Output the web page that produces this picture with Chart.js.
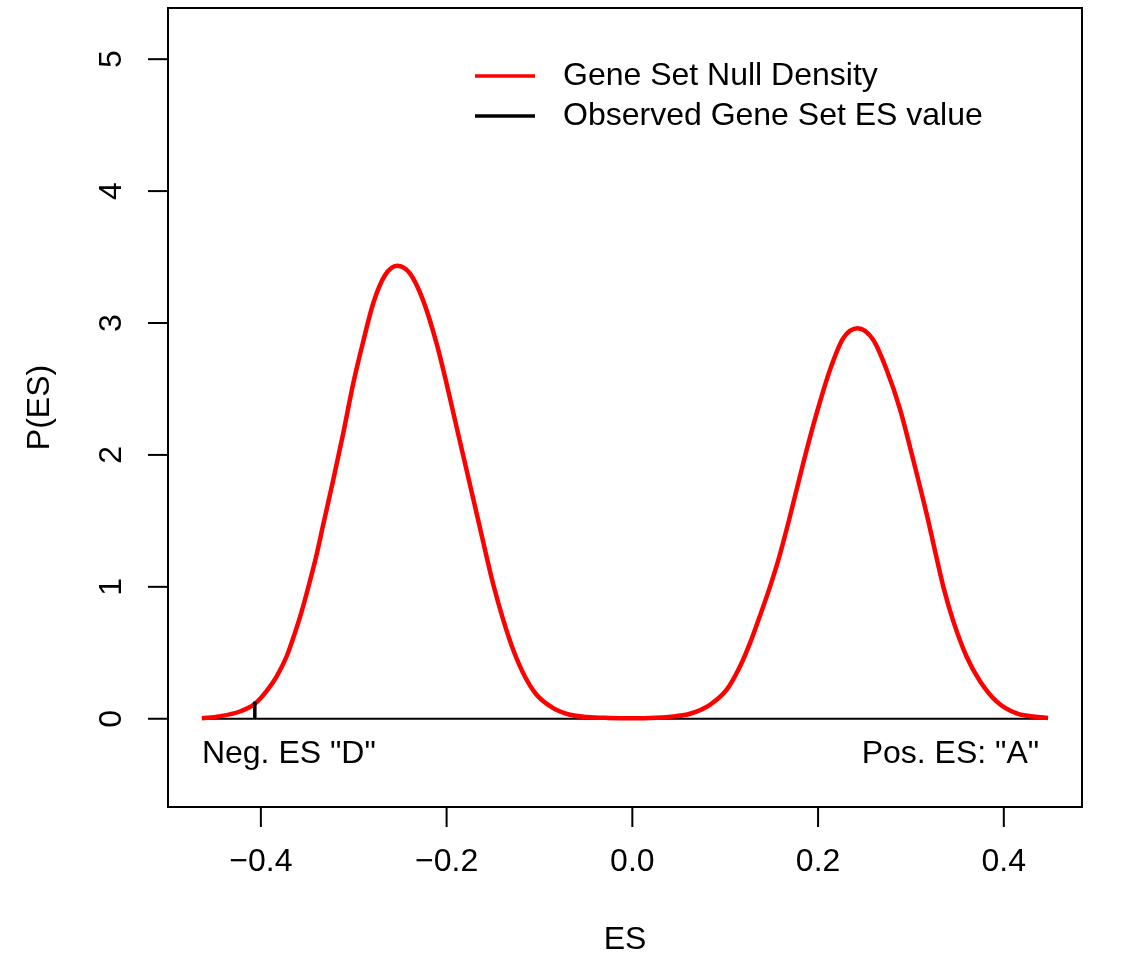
<!DOCTYPE html>
<html>
<head>
<meta charset="utf-8">
<script src="https://cdn.jsdelivr.net/npm/chart.js@4.4.1/dist/chart.umd.min.js"></script>
<style>
  html, body { margin: 0; padding: 0; background: #ffffff; }
  #wrap { width: 1123px; height: 957px; position: relative; }
</style>
</head>
<body>
<div id="wrap"><canvas id="c"></canvas></div>
<script>
// ---- data ----
const esValues = [-0.4635, -0.445, -0.4226, -0.4065, -0.3939, -0.3831, -0.3723, -0.3634, -0.3562, -0.349,
  -0.3408, -0.3329, -0.3221, -0.3114, -0.3006, -0.2898, -0.279, -0.2665, -0.2532, -0.2395,
  -0.2252, -0.2108, -0.200, -0.1892, -0.1785, -0.1677, -0.157, -0.1498, -0.139, -0.1283,
  -0.1157, -0.1031, -0.0852, -0.0672, -0.0492, -0.025, 0.000, 0.025, 0.045, 0.062,
  0.0836, 0.1016, 0.1159, 0.1267, 0.1374, 0.1482, 0.1571, 0.1697, 0.184, 0.1985,
  0.2128, 0.2271, 0.2426, 0.2595, 0.2739, 0.2882, 0.3025, 0.317, 0.326, 0.3349,
  0.3456, 0.360, 0.3744, 0.3924, 0.4139, 0.4476];
const densityValues = [0.004, 0.018, 0.055, 0.114, 0.21, 0.32, 0.472, 0.649, 0.81, 0.995,
  1.22, 1.47, 1.81, 2.16, 2.54, 2.86, 3.15, 3.36, 3.434, 3.376,
  3.17, 2.846, 2.54, 2.21, 1.886, 1.558, 1.23, 1.02, 0.75, 0.523,
  0.32, 0.182, 0.081, 0.030, 0.013, 0.006, 0.004, 0.008, 0.018, 0.038,
  0.106, 0.22, 0.396, 0.573, 0.78, 1.00, 1.20, 1.533, 1.937, 2.316,
  2.644, 2.884, 2.96, 2.871, 2.644, 2.348, 1.962, 1.55, 1.27, 1.00,
  0.74, 0.47, 0.285, 0.13, 0.04, 0.005];
const observedES = -0.4065;
const observedDensity = 0.13;
const xTickValues = [-0.4, -0.2, 0.0, 0.2, 0.4];
const xTickLabels = ["\u22120.4", "\u22120.2", "0.0", "0.2", "0.4"];
const yTickValues = [0, 1, 2, 3, 4, 5];
const yTickLabels = ["0", "1", "2", "3", "4", "5"];
const legendLabels = ["Gene Set Null Density", "Observed Gene Set ES value"];
const xTitle = "ES";
const yTitle = "P(ES)";
const negLabel = 'Neg. ES "D"';
const posLabel = 'Pos. ES: "A"';

// ---- build datasets ----
const curvePts = esValues.map((x, i) => ({ x: x, y: densityValues[i] }));
const basePts = [{ x: esValues[0], y: 0 }, { x: esValues[esValues.length - 1], y: 0 }];
const obsPts = [{ x: observedES, y: 0 }, { x: observedES, y: observedDensity }];

const FONT = '"Liberation Sans", Arial, Helvetica, sans-serif';
const FS = 32;

const rPlot = {
  id: 'rPlot',
  afterDraw(chart) {
    const ctx = chart.ctx;
    const a = chart.chartArea;
    const xs = chart.scales.x, ys = chart.scales.y;
    ctx.save();
    ctx.strokeStyle = '#000';
    ctx.fillStyle = '#000';
    ctx.lineWidth = 2;
    // box
    ctx.strokeRect(a.left, a.top, a.right - a.left, a.bottom - a.top);
    ctx.font = FS + 'px ' + FONT;
    // x ticks
    ctx.textAlign = 'center';
    ctx.textBaseline = 'middle';
    xTickValues.forEach((v, i) => {
      const px = xs.getPixelForValue(v);
      ctx.beginPath();
      ctx.moveTo(px, a.bottom);
      ctx.lineTo(px, a.bottom + 20);
      ctx.stroke();
      ctx.fillText(xTickLabels[i], px, a.bottom + 55);
    });
    // y ticks
    yTickValues.forEach((v, i) => {
      const py = ys.getPixelForValue(v);
      ctx.beginPath();
      ctx.moveTo(a.left, py);
      ctx.lineTo(a.left - 20, py);
      ctx.stroke();
      ctx.save();
      ctx.translate(a.left - 56, py);
      ctx.rotate(-Math.PI / 2);
      ctx.fillText(yTickLabels[i], 0, 0);
      ctx.restore();
    });
    // titles
    ctx.fillText(xTitle, (a.left + a.right) / 2, a.bottom + 133);
    ctx.save();
    ctx.translate(a.left - 128, (a.top + a.bottom) / 2);
    ctx.rotate(-Math.PI / 2);
    ctx.fillText(yTitle, 0, 0);
    ctx.restore();
    // annotations
    ctx.textAlign = 'left';
    ctx.fillText(negLabel, xs.getPixelForValue(esValues[0]), ys.getPixelForValue(-0.27));
    ctx.textAlign = 'right';
    ctx.fillText(posLabel, xs.getPixelForValue(0.438), ys.getPixelForValue(-0.27));
    // legend
    const colors = ['#ff0000', '#000000'];
    ctx.textAlign = 'left';
    legendLabels.forEach((t, i) => {
      const y = 76 + i * 40;
      ctx.strokeStyle = colors[i];
      ctx.lineWidth = 3.5;
      ctx.beginPath();
      ctx.moveTo(475, y);
      ctx.lineTo(535, y);
      ctx.stroke();
      ctx.fillStyle = '#000';
      ctx.fillText(t, 563, y);
    });
    ctx.restore();
  }
};

new Chart(document.getElementById('c'), {
  type: 'line',
  data: {
    datasets: [
      { label: 'base', data: basePts, borderColor: '#000', borderWidth: 2, pointRadius: 0, order: 3 },
      { label: legendLabels[0], data: curvePts, borderColor: '#ff0000', borderWidth: 4.5,
        pointRadius: 0, cubicInterpolationMode: 'monotone', order: 2 },
      { label: legendLabels[1], data: obsPts, borderColor: '#000', borderWidth: 3.5, pointRadius: 0, order: 1 }
    ]
  },
  options: {
    responsive: true,
    maintainAspectRatio: false,
    animation: false,
    layout: { padding: { left: 168, top: 8, right: 41, bottom: 150 } },
    plugins: { legend: { display: false }, tooltip: { enabled: false } },
    scales: {
      x: { type: 'linear', min: -0.5, max: 0.4842, display: false },
      y: { type: 'linear', min: -0.669, max: 5.388, display: false }
    }
  },
  plugins: [rPlot]
});
</script>
</body>
</html>
